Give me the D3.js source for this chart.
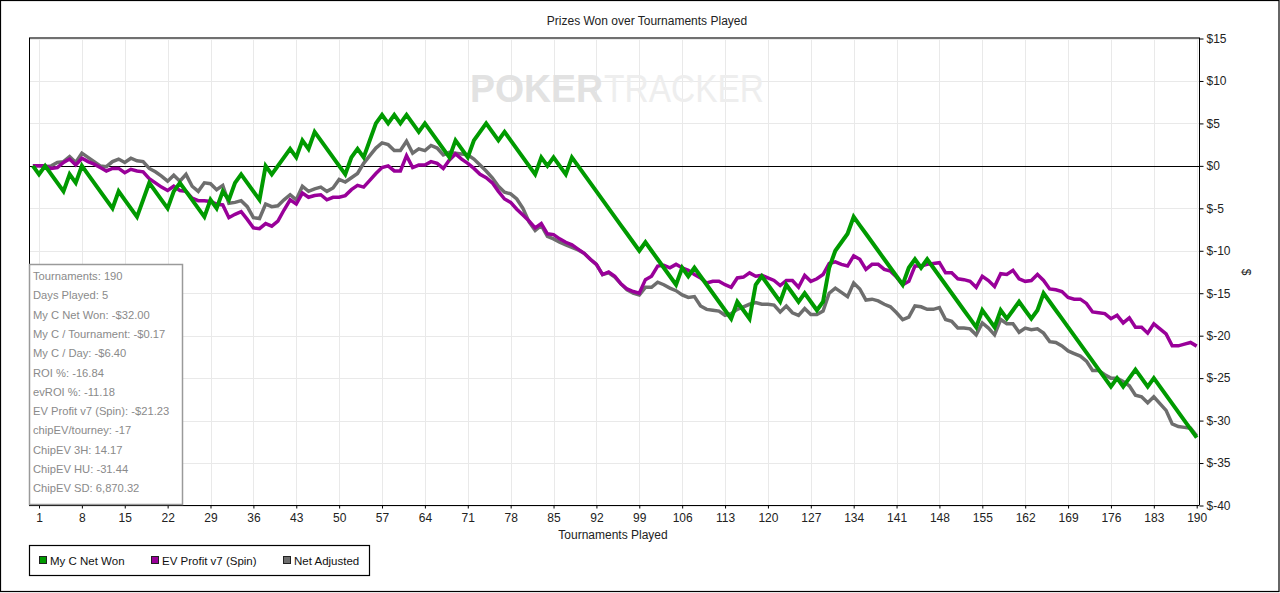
<!DOCTYPE html>
<html>
<head>
<meta charset="utf-8">
<script src="https://cdn.jsdelivr.net/npm/d3@7"></script>
<style>
  html, body { margin: 0; padding: 0; background: #fff; }
  svg { display: block; font-family: "Liberation Sans", Arial, sans-serif; }
</style>
</head>
<body>
<svg id="chart" width="1280" height="593"></svg>
<script>
// tournament index 0..190 (0 = start point)
var tournaments = d3.range(0, 191);

var xTicks = [1,8,15,22,29,36,43,50,57,64,71,78,85,92,99,106,113,120,127,134,141,148,155,162,169,176,183,190];
var yTicks = [15,10,5,0,-5,-10,-15,-20,-25,-30,-35,-40];

var netWon = [0,
 -1,0,-1,-2,-3,-1,-2,0,-1,-2, -3,-4,-5,-3,-4,-5,-6,-4,-2,-3,
 -4,-5,-3,-2,-3,-4,-5,-6,-4,-5, -3,-4,-2,-1,-2,-3,-4,0,-1,0,
 1,2,1,3,2,4,3,2,1,0, -1,1,2,1,3,5,6,5,6,5,
 6,5,4,5,4,3,2,1,3,2, 1,3,4,5,4,3,4,3,2,1,
 0,-1,1,0,1,0,-1,1,0,-1, -2,-3,-4,-5,-6,-7,-8,-9,-10,-9,
 -10,-11,-12,-13,-14,-12,-13,-12,-13,-14, -15,-16,-17,-18,-16,-17,-18,-14,-13,-14,
 -15,-16,-14,-15,-16,-15,-16,-17,-16,-12, -10,-9,-8,-6,-7,-8,-9,-10,-11,-12,
 -13,-14,-12,-11,-12,-11,-12,-13,-14,-15, -16,-17,-18,-19,-17,-18,-19,-17,-18,-17,
 -16,-17,-18,-17,-15,-16,-17,-18,-19,-20, -21,-22,-23,-24,-25,-26,-25,-26,-25,-24,
 -25,-26,-25,-26,-27,-28,-29,-30,-31,-32];

var evProfit = [0,
 0,0,-0.3,-0.2,0.4,0.8,0.1,0.9,0.5,0.2, -0.2,-0.6,-0.3,-0.3,-0.8,-0.4,-0.6,-0.7,-1.5,-2.0,
 -2.5,-2.9,-2.4,-2.9,-3.0,-3.8,-4.1,-4.1,-4.2,-4.5, -4.6,-6.1,-5.7,-5.4,-6.3,-7.3,-7.4,-6.8,-7.1,-6.5,
 -5.2,-4.0,-4.5,-3.2,-3.7,-3.5,-3.4,-4.0,-3.7,-3.7, -3.5,-2.8,-2.3,-2.5,-1.7,-0.9,-0.2,0,-0.6,-0.6,
 1.2,-0.2,0.1,0.1,0.5,0.3,-0.3,0.7,1.4,0.8, 0.3,-0.3,-1.0,-1.4,-2.0,-3.0,-3.9,-4.3,-5.1,-5.8,
 -6.5,-7.3,-6.8,-8.0,-8.1,-8.6,-9.0,-9.3,-9.8,-10.3, -11.0,-11.6,-12.8,-12.5,-13.0,-13.9,-14.5,-14.8,-15.0,-13.4,
 -13.0,-11.8,-11.7,-12.0,-11.6,-12.0,-12.3,-12.8,-13.2,-13.8, -13.6,-13.6,-14.0,-14.3,-13.2,-13.1,-12.6,-13.0,-12.9,-13.2,
 -13.5,-14.1,-13.5,-13.5,-14.3,-12.9,-13.6,-13.3,-12.8,-11.5, -11.3,-11.6,-11.8,-10.6,-11.0,-12.2,-11.6,-11.6,-12.2,-12.4,
 -13.1,-14.0,-13.6,-11.8,-11.8,-11.6,-11.5,-11.4,-12.6,-12.6, -13.3,-13.4,-13.6,-14.3,-13.0,-13.5,-14.2,-12.7,-12.8,-12.3,
 -13.3,-13.6,-13.5,-12.8,-13.5,-14.5,-14.6,-14.8,-15.5,-15.7, -15.7,-16.2,-17.2,-17.3,-17.4,-18.0,-17.6,-18.5,-17.9,-19.0,
 -19.0,-19.7,-18.6,-19.2,-19.8,-21.2,-21.2,-21.0,-20.8,-21.23];

var netAdjusted = [0,
 0,-0.1,0,0.4,0.5,1.1,0.4,1.5,1.0,0.5, 0.0,-0.1,0.5,0.8,0.4,0.9,0.6,0.5,-0.3,-0.7,
 -1.2,-1.8,-1.1,-1.8,-1.0,-2.4,-3.0,-2.0,-2.1,-2.8, -2.3,-4.4,-4.3,-4.1,-4.8,-6.1,-6.2,-4.5,-4.8,-4.7,
 -4.0,-3.4,-4.0,-2.4,-3.0,-2.7,-2.5,-3.0,-2.6,-1.6, -1.9,-1.4,-0.9,0.3,1.2,2.1,2.7,2.5,1.8,1.8,
 2.9,1.5,2.0,1.8,2.4,2.1,1.3,1.6,1.5,1.4, 1.3,0.8,0.1,-0.6,-1.4,-2.4,-3.1,-3.3,-3.9,-5.0,
 -6.6,-7.6,-7.0,-8.3,-8.6,-9.0,-9.3,-9.6,-9.9,-10.3, -11.0,-11.6,-12.8,-12.6,-13.1,-13.9,-14.6,-15.0,-15.2,-14.3,
 -14.3,-13.7,-14.0,-14.4,-14.7,-15.2,-15.5,-15.4,-16.5,-16.9, -17.0,-17.1,-17.6,-17.4,-16.9,-16.6,-16.3,-16.1,-16.3,-16.3,
 -16.4,-17.2,-16.5,-17.3,-17.6,-16.8,-17.5,-17.5,-17.1,-15.0, -14.4,-14.9,-15.4,-13.8,-14.5,-15.8,-15.7,-15.9,-16.3,-16.6,
 -17.3,-18.1,-17.8,-16.5,-16.6,-16.9,-16.9,-16.7,-18.1,-18.3, -19.1,-19.1,-19.2,-19.9,-18.5,-19.1,-19.9,-18.1,-18.6,-18.6,
 -19.6,-19.1,-19.3,-19.2,-19.7,-20.7,-20.8,-21.2,-21.8,-22.1, -22.4,-23.0,-24.1,-24.1,-24.6,-25.0,-25.0,-25.4,-25.9,-27.0,
 -27.2,-27.9,-27.2,-28.0,-28.8,-30.4,-30.7,-30.8,-30.9,-31.8];

var statLines = [
  "Tournaments: 190",
  "Days Played: 5",
  "My C Net Won: -$32.00",
  "My C / Tournament: -$0.17",
  "My C / Day: -$6.40",
  "ROI %: -16.84",
  "evROI %: -11.18",
  "EV Profit v7 (Spin): -$21.23",
  "chipEV/tourney: -17",
  "ChipEV 3H: 14.17",
  "ChipEV HU: -31.44",
  "ChipEV SD: 6,870.32"
];

var series = [
  {name: "Net Adjusted", values: netAdjusted, color: "#6e6e6e", width: 3.5},
  {name: "EV Profit v7 (Spin)", values: evProfit, color: "#990099", width: 3.5},
  {name: "My C Net Won", values: netWon, color: "#009a00", width: 4}
];
var legendOrder = ["My C Net Won", "EV Profit v7 (Spin)", "Net Adjusted"];

var svg = d3.select("#chart");
var pLeft = 29, pRight = 1199, pTop = 38, pBottom = 505.5;

var x = d3.scaleLinear().domain([-0.633, 190.375]).range([pLeft, pRight]);
var y = d3.scaleLinear().domain([-40, 15]).range([pBottom, pTop + 0.5]);

// outer frame
svg.append("rect").attr("x", 0.5).attr("y", 0.5).attr("width", 1278.5).attr("height", 591)
  .attr("fill", "#fff").attr("stroke", "#000").attr("stroke-width", 1.2);

// title
svg.append("text").attr("x", 647).attr("y", 25).attr("text-anchor", "middle")
  .attr("font-size", 12).attr("fill", "#222").text("Prizes Won over Tournaments Played");

// grid
var grid = svg.append("g").attr("stroke", "#e9e9e9").attr("stroke-width", 1);
grid.selectAll("line.v").data(xTicks).enter().append("line")
  .attr("x1", function(d){ return Math.round(x(d)) + 0.5; })
  .attr("x2", function(d){ return Math.round(x(d)) + 0.5; })
  .attr("y1", pTop).attr("y2", pBottom);
grid.selectAll("line.h").data(yTicks).enter().append("line")
  .attr("x1", pLeft).attr("x2", pRight)
  .attr("y1", function(d){ return Math.round(y(d)) + 0.5; })
  .attr("y2", function(d){ return Math.round(y(d)) + 0.5; });

// watermark
svg.append("text").attr("x", 470).attr("y", 102).attr("font-size", 38)
  .attr("font-weight", "bold").attr("fill", "#e2e2e2")
  .attr("textLength", 133).attr("lengthAdjust", "spacingAndGlyphs").text("POKER");
svg.append("text").attr("x", 604).attr("y", 102).attr("font-size", 38)
  .attr("fill", "#eeeeee")
  .attr("textLength", 160).attr("lengthAdjust", "spacingAndGlyphs").text("TRACKER");

// zero line
svg.append("line").attr("x1", pLeft).attr("x2", pRight)
  .attr("y1", Math.round(y(0)) + 0.5).attr("y2", Math.round(y(0)) + 0.5)
  .attr("stroke", "#000").attr("stroke-width", 1);

// lines
var line = d3.line()
  .x(function(d, i){ return x(tournaments[i]); })
  .y(function(d){ return y(d); });
svg.selectAll("path.series").data(series).enter().append("path")
  .attr("class", "series")
  .attr("d", function(s){ return line(s.values); })
  .attr("fill", "none")
  .attr("stroke", function(s){ return s.color; })
  .attr("stroke-width", function(s){ return s.width; })
  .attr("stroke-linejoin", "miter");

// frame of plot
svg.append("line").attr("x1", pLeft).attr("x2", pRight + 1).attr("y1", pTop).attr("y2", pTop)
  .attr("stroke", "#707070").attr("stroke-width", 2);
svg.append("line").attr("x1", pLeft + 0.5).attr("x2", pLeft + 0.5).attr("y1", pTop).attr("y2", pBottom)
  .attr("stroke", "#000").attr("stroke-width", 1);

// axes
var xAxis = svg.append("g").attr("transform", "translate(0," + pBottom + ")")
  .call(d3.axisBottom(x).tickValues(xTicks).tickSize(3).tickPadding(5));
xAxis.select(".domain").attr("d", "M" + pLeft + ",0H" + pRight);
var yAxis = svg.append("g").attr("transform", "translate(" + (pRight + 0.5) + ",0)")
  .call(d3.axisRight(y).tickValues(yTicks).tickSize(4).tickPadding(3)
    .tickFormat(function(d){ return "$" + d; }));
yAxis.select(".domain").attr("d", "M0," + pTop + "V" + pBottom);
svg.selectAll(".tick text").attr("font-size", 12).attr("fill", "#222")
  .attr("font-family", "Liberation Sans, Arial, sans-serif");

svg.append("text").attr("x", 613).attr("y", 539).attr("text-anchor", "middle")
  .attr("font-size", 12).attr("fill", "#222").text("Tournaments Played");
svg.append("text").attr("transform", "translate(1242,272) rotate(90)")
  .attr("text-anchor", "middle").attr("font-size", 12).attr("fill", "#222").text("$");

// stats box
var box = svg.append("g");
box.append("rect").attr("x", 29.5).attr("y", 264.5).attr("width", 153).attr("height", 240)
  .attr("fill", "#fff").attr("stroke", "#9a9a9a").attr("stroke-width", 1.5);
box.selectAll("text").data(statLines).enter().append("text")
  .attr("x", 33).attr("y", function(d, i){ return 280 + i * 19.3; })
  .attr("font-size", 11.2).attr("fill", "#8a8a8a").text(function(d){ return d; });

// legend
var lg = svg.append("g");
lg.append("rect").attr("x", 29.5).attr("y", 545.5).attr("width", 340).attr("height", 30)
  .attr("fill", "#fff").attr("stroke", "#000").attr("stroke-width", 1.2);
var legX = [39, 151, 283];
var items = lg.selectAll("g.item").data(legendOrder).enter().append("g")
  .attr("transform", function(d, i){ return "translate(" + legX[i] + ",556)"; });
items.append("rect").attr("x", 0.5).attr("y", 0.5).attr("width", 7).attr("height", 7)
  .attr("fill", function(d){ return series.find(function(s){ return s.name === d; }).color; })
  .attr("stroke", "#222").attr("stroke-width", 1);
items.append("text").attr("x", 11).attr("y", 8.5).attr("font-size", 11.5).attr("fill", "#111")
  .text(function(d){ return d; });
</script>
</body>
</html>
